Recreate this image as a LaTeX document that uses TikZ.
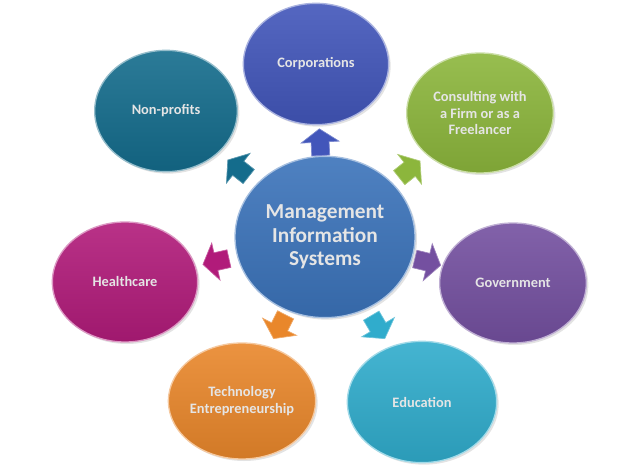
\documentclass[tikz,border=0pt]{standalone}
\usepackage{fontspec}
\setmainfont{Carlito}
\usetikzlibrary{shapes.geometric,shapes.arrows,calc,shadows}
\definecolor{cMis}{RGB}{59,115,186}
\definecolor{cCorp}{RGB}{66,86,186}
\definecolor{cCons}{RGB}{140,182,60}
\definecolor{cNon}{RGB}{20,108,140}
\definecolor{cHealth}{RGB}{177,27,122}
\definecolor{cGov}{RGB}{116,80,160}
\definecolor{cTech}{RGB}{233,135,43}
\definecolor{cEdu}{RGB}{48,172,204}
\tikzset{
  bub/.style={ellipse, inner sep=0pt, text=white!90!black,
    font=\bfseries\fontsize{10.8}{12.5}\selectfont, align=center,
    draw=#1!45!white, line width=1pt,
    top color=#1!90!white, bottom color=#1!90!black,
    drop shadow={opacity=0.22, shadow xshift=1.5pt, shadow yshift=-1.5pt}},
  blockarr/.style={single arrow, inner xsep=0pt, inner ysep=6.5pt,
    minimum height=20pt, single arrow head extend=7.5pt,
    single arrow tip angle=110, fill=#1, draw=#1!70!white, line width=0.5pt},
}
\begin{document}
\begin{tikzpicture}[x=0.75pt, y=-0.75pt]
\useasboundingbox (0,0) rectangle (640,467);
\node[bub=cMis, minimum width=135pt, minimum height=121pt,
      font=\bfseries\fontsize{16}{17.5}\selectfont] (mis) at (325,237)
      {Management\\Information\\Systems};
\node[bub=cCorp, minimum width=109pt, minimum height=91pt] (corp) at (316,64) {Corporations};
\node[bub=cCons, minimum width=110pt, minimum height=90pt] (cons) at (480,113) {Consulting with\\a Firm or as a\\Freelancer};
\node[bub=cNon, minimum width=107pt, minimum height=91pt] (non) at (166,111) {Non-profits};
\node[bub=cHealth, minimum width=109pt, minimum height=90pt] (health) at (125,282) {Healthcare};
\node[bub=cGov, minimum width=110pt, minimum height=90pt] (gov) at (513,283) {Government};
\node[bub=cTech, minimum width=110pt, minimum height=87pt] (tech) at (242,401) {Technology\\Entrepreneurship};
\node[bub=cEdu, minimum width=112pt, minimum height=91pt] (edu) at (422,402) {Education};
\foreach \t/\c in {corp/cCorp, cons/cCons, non/cNon, health/cHealth, gov/cGov, tech/cTech, edu/cEdu}{
  \path let \p1=($(\t)-(mis)$), \n1={atan2(\y1,\x1)} in
    node[blockarr=\c, rotate=\n1] (a-\t) at ($(mis)!0.53!(\t)$) {};
}
\end{tikzpicture}
\end{document}
